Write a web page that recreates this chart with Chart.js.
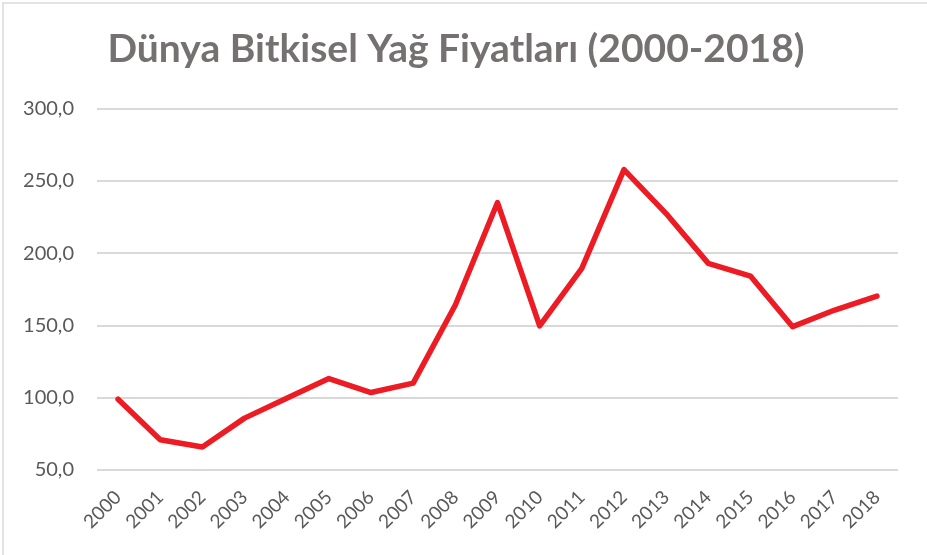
<!DOCTYPE html>
<html>
<head>
<meta charset="utf-8">
<script src="https://cdn.jsdelivr.net/npm/chart.js@4"></script>
<style>
  html, body { margin: 0; padding: 0; background: #fff; }
  #frame {
    position: absolute; left: 2px; top: 2px; width: 925px; height: 553px;
    border-top: 2px solid #e3e3e3; border-left: 2px solid #e3e3e3;
    box-sizing: border-box;
  }
  #wrap { position: absolute; left: 0; top: 0; width: 927px; height: 555px; }
</style>
</head>
<body>
<div id="frame"></div>
<div id="wrap"><canvas id="chart"></canvas></div>
<script>
const years = ['2000', '2001', '2002', '2003', '2004', '2005', '2006', '2007', '2008', '2009',
  '2010', '2011', '2012', '2013', '2014', '2015', '2016', '2017', '2018'];
const prices = [99.0, 70.9, 65.9, 85.9, 99.7, 113.3, 103.6, 110.1, 164.2, 235.1,
  149.7, 189.5, 257.9, 227.5, 193.0, 184.2, 149.2, 160.7, 170.4];
const titleText = 'Dünya Bitkisel Yağ Fiyatları (2000-2018)';

const ctx = document.getElementById('chart').getContext('2d');
new Chart(ctx, {
  type: 'line',
  data: {
    labels: years,
    datasets: [{
      data: prices,
      borderColor: '#ED1C24',
      borderWidth: 5.5,
      pointRadius: 0,
      borderJoinStyle: 'round',
      borderCapStyle: 'round',
      tension: 0,
      fill: false,
    }],
  },
  options: {
    responsive: true,
    maintainAspectRatio: false,
    animation: false,
    layout: {
      padding: { left: 14, right: 29, top: 14, bottom: 15 },
    },
    plugins: {
      legend: { display: false },
      tooltip: { enabled: false },
      title: {
        display: true,
        text: titleText,
        color: '#757171',
        font: { family: 'Lato', size: 39, weight: 'bold' },
        padding: { top: 12, bottom: 36 },
      },
    },
    scales: {
      x: {
        offset: true,
        grid: { display: false, drawTicks: false },
        border: { display: false },
        ticks: {
          color: '#595959',
          font: { family: 'Lato', size: 19 },
          maxRotation: 45,
          minRotation: 45,
          padding: 16,
        },
        afterFit: (scale) => {
          scale.paddingLeft = 0;
          scale.paddingRight = 0;
          scale.height = 70;
        },
      },
      y: {
        min: 50,
        max: 300,
        grid: { color: '#d9d9d9', lineWidth: 2, drawTicks: false },
        border: { display: false },
        ticks: {
          stepSize: 50,
          color: '#595959',
          font: { family: 'Lato', size: 20 },
          padding: 23,
          callback: (v) => v.toFixed(1).replace('.', ','),
        },
        afterFit: (scale) => {
          scale.width = 83;
        },
      },
    },
  },
});
</script>
</body>
</html>
